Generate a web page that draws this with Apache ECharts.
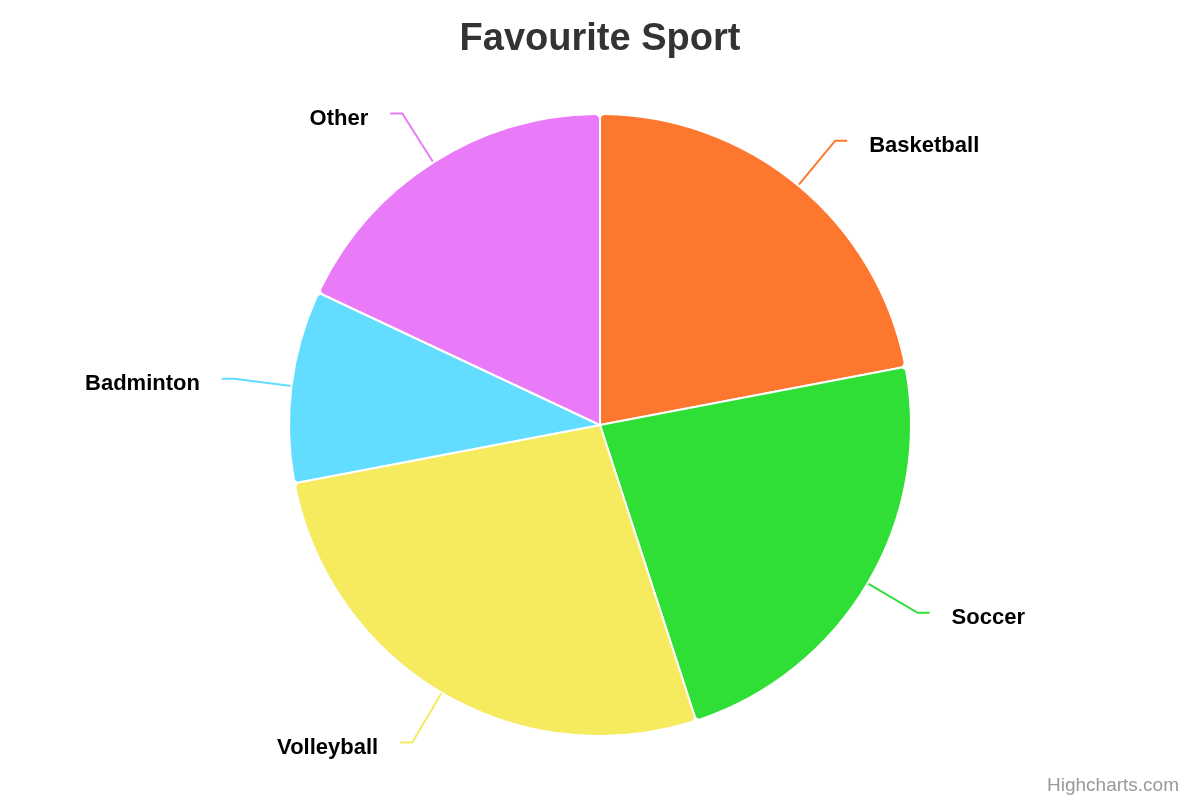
<!DOCTYPE html>
<html>
<head>
<meta charset="utf-8">
<title>Favourite Sport</title>
<script src="https://cdn.jsdelivr.net/npm/echarts@6/dist/echarts.min.js"></script>
<style>
    html, body { margin: 0; padding: 0; background: #ffffff; }
    #main { width: 1200px; height: 800px; }
</style>
</head>
<body>
<div id="main"></div>
<script>
// *******Chart data*******
var categories = ['Basketball', 'Soccer', 'Volleyball', 'Badminton', 'Other'];
var shares = [22, 23, 27, 10, 18];
var colors = ['#FE772E', '#30DF36', '#F6EA5E', '#62DDFF', '#E97AF8'];
// which side of the pie each label sits on
var sides = ['right', 'right', 'left', 'left', 'left'];

var myChart = echarts.init(document.getElementById('main'));

// build pie items from the arrays
var pieData = [];
for (var i = 0; i < categories.length; i++) {
    pieData.push({
        name: categories[i],
        value: shares[i],
        itemStyle: { color: colors[i] },
        labelLine: { lineStyle: { color: colors[i] } },
        label: {
            // push text away from the connector
            padding: sides[i] == 'right' ? [0, 0, 0, 17] : [0, 17, 0, 0]
        }
    });
}

var option = {
    backgroundColor: '#ffffff',
    animation: false,
    title: [{
        text: 'Favourite Sport',
        left: 'center',
        top: 16,
        textStyle: {
            fontFamily: 'Liberation Sans, Arial, sans-serif',
            fontSize: 38,
            fontWeight: 'bold',
            color: '#333333'
        }
    }, {
        text: 'Highcharts.com',
        right: 16,
        bottom: 0,
        textStyle: {
            fontFamily: 'Liberation Sans, Arial, sans-serif',
            fontSize: 19,
            fontWeight: 'normal',
            color: '#999999'
        }
    }],
    series: [{
        type: 'pie',
        center: [600, 425],
        radius: 311,
        startAngle: 90,
        clockwise: true,
        avoidLabelOverlap: false,
        itemStyle: {
            borderColor: '#ffffff',
            borderWidth: 2,
            borderRadius: 5
        },
        label: {
            show: true,
            // rich fragment with top padding sits the text a little below the connector end
            formatter: '{t|{b}}',
            rich: {
                t: {
                    fontFamily: 'Liberation Sans, Arial, sans-serif',
                    fontSize: 22,
                    fontWeight: 'bold',
                    color: '#000000',
                    padding: [10, 0, 0, 0]
                }
            }
        },
        labelLine: {
            show: true,
            length: 58,
            length2: 12,
            smooth: false,
            lineStyle: { width: 2 }
        },
        emphasis: { disabled: true },
        data: pieData
    }]
};

myChart.setOption(option);
</script>
</body>
</html>
